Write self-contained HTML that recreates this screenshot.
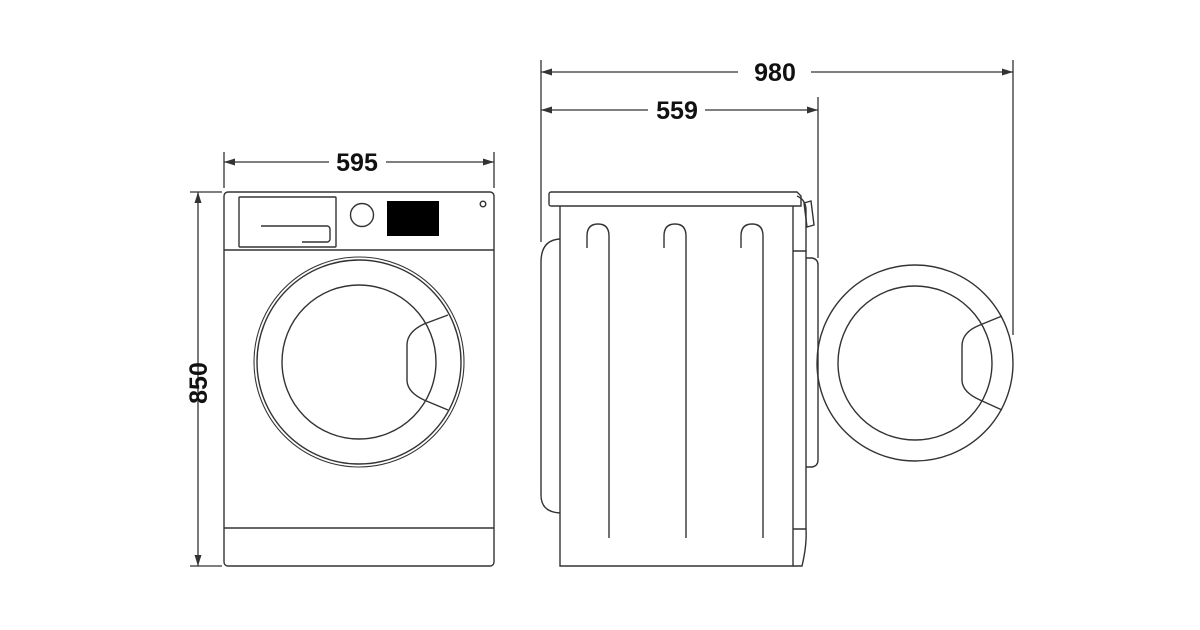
<!DOCTYPE html>
<html><head><style>html,body{margin:0;padding:0;background:#fff}svg{display:block}</style></head>
<body>
<svg width="1200" height="630" viewBox="0 0 1200 630" xmlns="http://www.w3.org/2000/svg">
<defs>
<marker id="a" viewBox="0 0 10 10" refX="10" refY="5" markerWidth="11" markerHeight="7" markerUnits="userSpaceOnUse" orient="auto-start-reverse" preserveAspectRatio="none"><path d="M0,0L10,5L0,10z" fill="#333"/></marker>
</defs>
<g fill="none" stroke="#333" stroke-width="1.3">
<!-- dims -->
<line x1="541" y1="60" x2="541" y2="242"/>
<line x1="1013" y1="60" x2="1013" y2="335"/>
<line x1="818" y1="97" x2="818" y2="258"/>
<line x1="541" y1="72" x2="738" y2="72" marker-start="url(#a)"/>
<line x1="811" y1="72" x2="1013" y2="72" marker-end="url(#a)"/>
<line x1="541" y1="110" x2="648" y2="110" marker-start="url(#a)"/>
<line x1="705" y1="110" x2="818" y2="110" marker-end="url(#a)"/>
<line x1="224" y1="152" x2="224" y2="188"/>
<line x1="494" y1="152" x2="494" y2="188"/>
<line x1="224" y1="162" x2="329" y2="162" marker-start="url(#a)"/>
<line x1="386" y1="162" x2="494" y2="162" marker-end="url(#a)"/>
<line x1="190" y1="192" x2="222" y2="192"/>
<line x1="190" y1="566" x2="222" y2="566"/>
<line x1="198" y1="192" x2="198" y2="566" marker-start="url(#a)" marker-end="url(#a)"/>
</g>
<g font-family="Liberation Sans, sans-serif" font-weight="bold" font-size="25" fill="#111" text-anchor="middle">
<text x="775" y="81">980</text>
<text x="677" y="119">559</text>
<text x="357" y="171">595</text>
<text transform="translate(207,383) rotate(-90)">850</text>
</g>
<!-- front view -->
<g fill="none" stroke="#333" stroke-width="1.4">
<rect x="224" y="192" width="270" height="374" rx="4"/>
<line x1="224" y1="250" x2="494" y2="250"/>
<line x1="224" y1="528" x2="494" y2="528"/>
<rect x="239" y="197" width="97" height="50" rx="1"/>
<path d="M261,226H327a3,3 0 0 1 3,3V239a3,3 0 0 1-3,3H302"/>
<circle cx="362" cy="215" r="11.5"/>
<circle cx="483" cy="204" r="2.8"/>
<circle cx="359" cy="362" r="105" stroke-width="1.1"/>
<circle cx="359" cy="362" r="102"/>
<circle cx="359" cy="362" r="77"/>
<path d="M448,315L424,324Q407,332 407,345V380Q407,392 424,400L448,410"/>
</g>
<rect x="387" y="201" width="52" height="35" fill="#000"/>
<!-- side view -->
<g fill="none" stroke="#333" stroke-width="1.4">
<path d="M551,192H797L801,196V206H551a2,2 0 0 1-2-2V194a2,2 0 0 1 2-2z"/>
<path d="M560,206V566H793V206"/>
<path d="M797,196Q806,200 806,210V251H793"/>
<path d="M806,251V529"/>
<path d="M793,529H806Q807,545 802,566H793"/>
<path d="M804,203L811,201L814,225L807,227z"/>
<path d="M806,258H812Q818,259 818,265V460Q818,466 812,467H806"/>
<path d="M560,239Q541,240 541,262V495Q541,512 560,513"/>
<path d="M587,248V236Q587,224 598,224Q609,224 609,236V538"/>
<path d="M664,248V236Q664,224 675,224Q686,224 686,236V538"/>
<path d="M741,248V236Q741,224 752,224Q763,224 763,236V538"/>
<circle cx="915" cy="363" r="98"/>
<circle cx="915" cy="363" r="77"/>
<path d="M1002,316L980,325Q962,332 962,346V380Q962,392 980,400L1002,410"/>
</g>
</svg>
</body></html>
